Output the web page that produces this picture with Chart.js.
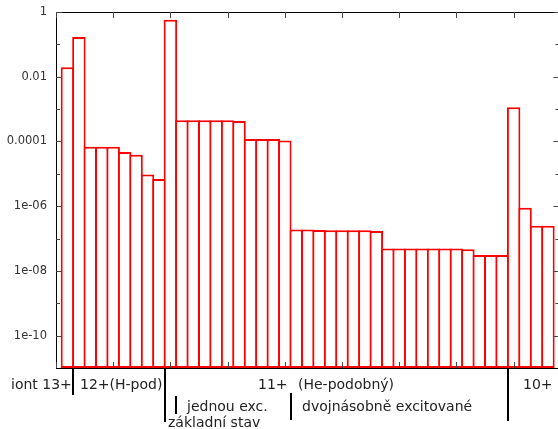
<!DOCTYPE html>
<html>
<head>
<meta charset="utf-8">
<script src="https://cdn.jsdelivr.net/npm/chart.js@4/dist/chart.umd.min.js"></script>
<style>
  html, body { margin: 0; padding: 0; background: #fff; overflow: hidden; }
  #wrap { width: 560px; height: 429px; position: relative; }
</style>
</head>
<body>
<div id="wrap"><canvas id="myChart"></canvas></div>
<script>
// bins (state index) and their relative populations
const bins = [1, 2, 3, 4, 5, 6, 7, 8, 9, 10,
  11, 12, 13, 14, 15, 16, 17, 18, 19, 20,
  21, 22, 23, 24, 25, 26, 27, 28, 29, 30,
  31, 32, 33, 34, 35, 36, 37, 38, 39, 40,
  41, 42, 43];
const populations = [0.0195, 0.17, 6.9e-5, 6.9e-5, 6.9e-5, 4.7e-5, 3.9e-5, 9.6e-6, 6.9e-6, 0.58,
  4.5e-4, 4.5e-4, 4.5e-4, 4.5e-4, 4.5e-4, 4.3e-4, 1.2e-4, 1.2e-4, 1.2e-4, 1.07e-4,
  1.9e-7, 1.9e-7, 1.85e-7, 1.8e-7, 1.8e-7, 1.8e-7, 1.8e-7, 1.7e-7, 4.9e-8, 4.9e-8,
  4.9e-8, 4.9e-8, 4.9e-8, 4.9e-8, 4.9e-8, 4.7e-8, 3.1e-8, 3.1e-8, 3.1e-8, 1.13e-3,
  9e-7, 2.5e-7, 2.5e-7];

// axis ticks
const yMajor = [1, 1e-2, 1e-4, 1e-6, 1e-8, 1e-10];
const yLabels = ['1', '0.01', '0.0001', '1e-06', '1e-08', '1e-10'];
const yMinor = [1e-1, 1e-3, 1e-5, 1e-7, 1e-9];
const xTicks = [0, 5, 10, 15, 20, 25, 30, 35, 40];

// group separators (bin boundaries) and group names under the axis
const separators = [
  { at: 1.5, y0: 368, y1: 395 },
  { at: 9.5, y0: 368, y1: 422 },
  { at: 10.5, y0: 396, y1: 414 },
  { at: 20.5, y0: 393, y1: 420 },
  { at: 39.5, y0: 368, y1: 421 }
];
const groupLabels = [
  { text: 'iont 13+', x: 11, y: 389 },
  { text: '12+(H-pod)', x: 80, y: 389 },
  { text: '11+', x: 258, y: 389 },
  { text: '(He-podobný)', x: 298, y: 389 },
  { text: '10+', x: 523, y: 389 },
  { text: 'jednou exc.', x: 187, y: 411 },
  { text: 'dvojnásobně excitované', x: 302, y: 411 },
  { text: 'základní stav', x: 168, y: 427 }
];

const FONT = "'DejaVu Sans', sans-serif";
const BW = 2;

// frame, inward ticks and annotations (gnuplot look)
const framePlugin = {
  id: 'frame',
  afterDraw(chart) {
    const ctx = chart.ctx;
    const a = chart.chartArea;
    const xs = chart.scales.x, ys = chart.scales.y;
    ctx.save();
    ctx.strokeStyle = '#000';
    ctx.lineWidth = 1;
    ctx.strokeRect(Math.round(a.left) + 0.5, Math.round(a.top) + 0.5,
      a.right - a.left, Math.round(a.bottom) - Math.round(a.top));

    ctx.strokeStyle = '#444';
    ctx.beginPath();
    yMajor.concat(yMinor).forEach(v => {
      const y = Math.round(ys.getPixelForValue(v)) + 0.5;
      const len = yMajor.includes(v) ? 6 : 4;
      ctx.moveTo(a.left, y); ctx.lineTo(a.left + len, y);
      ctx.moveTo(a.right, y); ctx.lineTo(a.right - len, y);
    });
    xTicks.forEach(v => {
      const x = Math.round(xs.getPixelForValue(v)) + 0.5;
      ctx.moveTo(x, a.top); ctx.lineTo(x, a.top + 6);
      ctx.moveTo(x, a.bottom); ctx.lineTo(x, a.bottom - 6);
    });
    ctx.stroke();

    ctx.strokeStyle = '#000';
    ctx.lineWidth = 2;
    ctx.beginPath();
    separators.forEach(s => {
      const x = Math.round(xs.getPixelForValue(s.at));
      ctx.moveTo(x, s.y0); ctx.lineTo(x, s.y1);
    });
    ctx.stroke();

    ctx.fillStyle = '#222';
    ctx.font = '14px ' + FONT;
    ctx.textAlign = 'left';
    ctx.textBaseline = 'alphabetic';
    groupLabels.forEach(l => ctx.fillText(l.text, l.x, l.y));
    ctx.restore();
  }
};

const data = {
  datasets: [{
    label: 'populace',
    data: bins.map((b, i) => ({ x: b, y: populations[i] })),
    backgroundColor: '#ffffff',
    borderColor: '#ff0000',
    borderWidth: BW,
    borderSkipped: false,
    categoryPercentage: 1,
    barPercentage: 1 + BW / 11.44
  }]
};

const config = {
  type: 'bar',
  data: data,
  options: {
    responsive: true,
    maintainAspectRatio: false,
    animation: false,
    layout: { padding: { top: 12, bottom: 61, left: 0, right: 0.6 } },
    plugins: { legend: { display: false }, tooltip: { enabled: false } },
    scales: {
      x: {
        type: 'linear',
        min: 0,
        max: 44,
        offset: false,
        display: false
      },
      y: {
        type: 'logarithmic',
        min: 1e-11,
        max: 1,
        grid: { display: false, drawTicks: false },
        border: { display: false },
        afterBuildTicks: s => { s.ticks = yMajor.map(v => ({ value: v })); },
        afterFit: s => { s.width = 56; s.paddingTop = 0; s.paddingBottom = 0; },
        ticks: {
          autoSkip: false,
          padding: 9,
          color: '#333',
          font: { family: FONT, size: 11.5 },
          callback: (v, i) => yLabels[i]
        }
      }
    }
  },
  plugins: [framePlugin]
};

const myChart = new Chart(document.getElementById('myChart'), config);
</script>
</body>
</html>
